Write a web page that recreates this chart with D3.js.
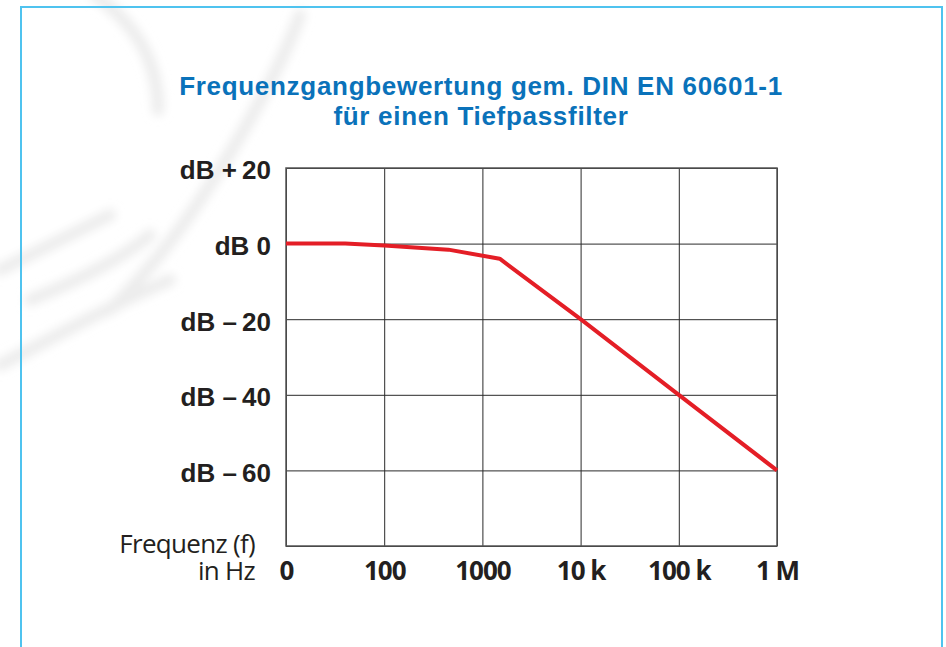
<!DOCTYPE html>
<html>
<head>
<meta charset="utf-8">
<script src="https://cdn.jsdelivr.net/npm/d3@7"></script>
<style>
  body { margin: 0; background: #fff; }
  svg { display: block; }
</style>
</head>
<body>
<div id="chart"></div>
<script>
// Data
var freqTicks = [10, 100, 1000, 10000, 100000, 1000000];
var freqLabels = ["0", "100", "1000", "10 k", "100 k", "1 M"];
var dbTicks = [20, 0, -20, -40, -60, -80];
var dbLabels = ["dB +\u200920", "dB 0", "dB \u2013\u200920", "dB \u2013\u200940", "dB \u2013\u200960", ""];
var curveFreq = [10, 40, 100, 450, 1500, 10000, 100000, 1000000];
var curveDb = [0, 0, -0.5, -1.6, -4, -20, -40, -60];
var titleLines = ["Frequenzgangbewertung gem. DIN EN 60601-1", "für einen Tiefpassfilter"];
var xLabelLines = ["Frequenz (f)", "in Hz"];

var W = 946, H = 647;
var plot = { left: 286, top: 168, right: 777, bottom: 546 };

var svg = d3.select("#chart").append("svg")
  .attr("width", W)
  .attr("height", H);

// faint watermark swirl in the background
var defs = svg.append("defs");
defs.append("filter").attr("id", "blur")
  .attr("x", "-20%").attr("y", "-20%").attr("width", "140%").attr("height", "140%")
  .append("feGaussianBlur").attr("stdDeviation", 5);

var swirl = svg.append("g")
  .attr("filter", "url(#blur)")
  .attr("fill", "none")
  .attr("stroke", "#ececec")
  .attr("stroke-width", 12)
  .attr("stroke-linecap", "round");
swirl.append("path").attr("d", "M95,-5 C130,20 158,55 158,110");
swirl.append("path").attr("d", "M300,15 C280,70 240,140 200,200 C170,245 140,280 110,310");
swirl.append("path").attr("d", "M0,270 C40,250 70,235 110,215");
swirl.append("path").attr("d", "M0,365 C50,340 110,305 170,280");
swirl.append("path").attr("d", "M30,300 C80,280 120,260 150,235");

// light blue outer box
svg.append("rect")
  .attr("x", 21)
  .attr("y", 7)
  .attr("width", 921)
  .attr("height", 700)
  .attr("fill", "none")
  .attr("stroke", "#4fc3ef")
  .attr("stroke-width", 2);

// Title
svg.append("g").selectAll("text")
  .data(titleLines)
  .enter()
  .append("text")
  .attr("x", 481)
  .attr("y", function (d, i) { return 95 + i * 30; })
  .attr("text-anchor", "middle")
  .style("font", "bold 26px 'Liberation Sans', Arial, sans-serif")
  .style("letter-spacing", "0.7px")
  .attr("fill", "#0a72ba")
  .text(function (d) { return d; });

// Scales
var x = d3.scaleLog()
  .domain([10, 1000000])
  .range([plot.left, plot.right]);

var y = d3.scaleLinear()
  .domain([20, -80])
  .range([plot.top, plot.bottom]);

// Grid lines and tick labels
var gx = svg.append("g")
  .attr("transform", "translate(0," + plot.bottom + ")")
  .call(d3.axisBottom(x)
    .tickValues(freqTicks)
    .tickSize(-(plot.bottom - plot.top))
    .tickFormat(function (d, i) { return freqLabels[i]; })
    .tickPadding(16));
gx.select(".domain").remove();
gx.selectAll(".tick line").attr("stroke", "#2a2a2a").attr("stroke-width", 1);
gx.selectAll(".tick text")
  .attr("fill", "#231f20")
  .style("font", "bold 26px 'Open Sans', sans-serif")
  .style("letter-spacing", "-1px");

var gy = svg.append("g")
  .attr("transform", "translate(" + plot.left + ",0)")
  .call(d3.axisLeft(y)
    .tickValues(dbTicks)
    .tickSize(-(plot.right - plot.left))
    .tickFormat(function (d, i) { return dbLabels[i]; })
    .tickPadding(15));
gy.select(".domain").remove();
gy.selectAll(".tick line").attr("stroke", "#2a2a2a").attr("stroke-width", 1);
gy.selectAll(".tick text")
  .attr("dy", "0.42em")
  .attr("fill", "#231f20")
  .style("font", "bold 26px 'Liberation Sans', Arial, sans-serif");

// Plot frame
svg.append("rect")
  .attr("x", plot.left)
  .attr("y", plot.top)
  .attr("width", plot.right - plot.left)
  .attr("height", plot.bottom - plot.top)
  .attr("fill", "none")
  .attr("stroke", "#555")
  .attr("stroke-width", 1.5);

// Frequency axis caption (one text, two lines)
svg.append("text")
  .attr("text-anchor", "end")
  .style("font", "26px 'Open Sans', sans-serif")
  .style("letter-spacing", "-0.7px")
  .attr("fill", "#231f20")
  .selectAll("tspan")
  .data(xLabelLines)
  .enter()
  .append("tspan")
  .attr("x", 255)
  .attr("y", function (d, i) { return 553 + i * 27; })
  .text(function (d) { return d; });

// Response curve
var pts = curveFreq.map(function (f, i) { return [f, curveDb[i]]; });
var line = d3.line()
  .x(function (d) { return x(d[0]); })
  .y(function (d) { return y(d[1]); });

svg.append("path")
  .datum(pts)
  .attr("d", line)
  .attr("fill", "none")
  .attr("stroke", "#e41e26")
  .attr("stroke-width", 4)
  .attr("stroke-linejoin", "round");
</script>
</body>
</html>
